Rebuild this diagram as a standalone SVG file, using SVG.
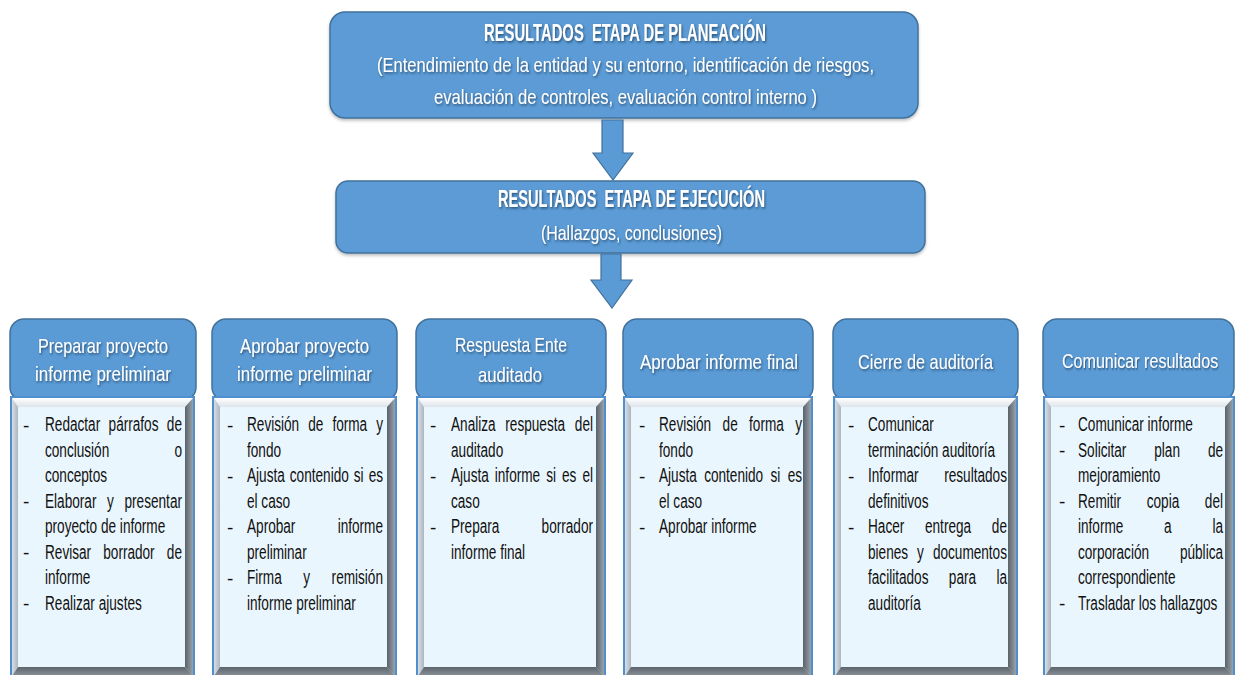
<svg xmlns="http://www.w3.org/2000/svg" width="1235" height="675" viewBox="0 0 1235 675">
<defs>
<filter id="ts" x="-5%" y="-30%" width="110%" height="160%"><feDropShadow dx="1" dy="1.5" stdDeviation="0.8" flood-color="#1f3a5a" flood-opacity="0.75"/></filter>
<filter id="bs" x="-5%" y="-10%" width="110%" height="125%"><feDropShadow dx="0" dy="2" stdDeviation="1.5" flood-color="#000" flood-opacity="0.25"/></filter>
<linearGradient id="gTop" x1="0" y1="0" x2="0" y2="1"><stop offset="0" stop-color="#ffffff"/><stop offset="1" stop-color="#dde4ea"/></linearGradient>
<linearGradient id="gLeft" x1="0" y1="0" x2="1" y2="0"><stop offset="0" stop-color="#d7dde3"/><stop offset="1" stop-color="#aeb6be"/></linearGradient>
<linearGradient id="gRight" x1="0" y1="0" x2="1" y2="0"><stop offset="0" stop-color="#59616a"/><stop offset="1" stop-color="#9aa2aa"/></linearGradient>
<linearGradient id="gBot" x1="0" y1="0" x2="0" y2="1"><stop offset="0" stop-color="#5d646c"/><stop offset="1" stop-color="#8a9199"/></linearGradient>
</defs>
<style>
.box{fill:#5B9BD5;stroke:#41719C;stroke-width:1.5}
.arrow{fill:#5B9BD5;stroke:#41719C;stroke-width:1.2}
.wt{fill:#ffffff;font-family:"Liberation Sans",Arial,sans-serif;filter:url(#ts)}
.b{font-weight:bold;font-size:23px}
.r{font-size:21px}
.hd{font-size:21px}
.face{fill:#EAF6FD}
.bt{fill:url(#gTop)}
.bl{fill:url(#gLeft)}
.br{fill:url(#gRight)}
.bb{fill:url(#gBot)}
.brd{fill:none;stroke:#4F8FD0;stroke-width:2}
.tx{fill:#111;font-family:"Liberation Sans",Arial,sans-serif;font-size:21px}
.dash{fill:#111;font-family:"Liberation Sans",Arial,sans-serif;font-size:19px}
</style>

<g id="planeacion">
<rect class="box" x="330" y="12" width="588" height="106" rx="15" filter="url(#bs)"/>
<text class="wt b" x="484" y="41" textLength="282" lengthAdjust="spacingAndGlyphs" xml:space="preserve">RESULTADOS  ETAPA DE PLANEACIÓN</text>
<text class="wt r" x="377" y="72" textLength="497" lengthAdjust="spacingAndGlyphs">(Entendimiento de la entidad y su entorno, identificación de riesgos,</text>
<text class="wt r" x="434" y="104" textLength="383" lengthAdjust="spacingAndGlyphs">evaluación de controles, evaluación control interno )</text>
</g>

<g id="ejecucion">
<rect class="box" x="336" y="181" width="589" height="72" rx="12" filter="url(#bs)"/>
<text class="wt b" x="498" y="207" textLength="267" lengthAdjust="spacingAndGlyphs" xml:space="preserve">RESULTADOS  ETAPA DE EJECUCIÓN</text>
<text class="wt r" x="541" y="240" textLength="181" lengthAdjust="spacingAndGlyphs">(Hallazgos, conclusiones)</text>
</g>

<g id="connectors">
<polygon class="arrow" points="602,120 623,120 623,153 633,153 613,180 593,153 602,153"/>
<polygon class="arrow" points="601,254 621,254 621,280 632,280 612,308 591,280 601,280"/>
</g>

<!-- Column 1 -->
<g id="col1">
<rect class="box" x="10" y="319" width="186" height="82" rx="14"/>
<text class="wt hd" x="38" y="353" textLength="130" lengthAdjust="spacingAndGlyphs">Preparar proyecto</text>
<text class="wt hd" x="35" y="381" textLength="136" lengthAdjust="spacingAndGlyphs">informe preliminar</text>
<rect class="face" x="10" y="397" width="185" height="280"/>
<polygon class="bt" points="12,398 193,398 185,407 18,407"/>
<polygon class="bl" points="12,398 18,407 18,667 12,676"/>
<polygon class="br" points="193,398 193,676 185,667 185,407"/>
<polygon class="bb" points="12,676 18,667 185,667 193,676"/>
<rect class="brd" x="11" y="397" width="183" height="282"/>
<text class="dash" x="23" y="431.5">-</text><text class="dash" x="23" y="508">-</text><text class="dash" x="23" y="559">-</text><text class="dash" x="23" y="610">-</text>
<g transform="translate(45,0) scale(0.648,1)">
<text class="tx" x="0" y="431.5" style="word-spacing:7.1px" textLength="211.4" lengthAdjust="spacing">Redactar párrafos de</text>
<text class="tx" x="0" y="457" style="word-spacing:94.7px" textLength="211.4" lengthAdjust="spacing">conclusión o</text>
<text class="tx" x="0" y="482.5">conceptos</text>
<text class="tx" x="0" y="508" style="word-spacing:10.6px" textLength="211.4" lengthAdjust="spacing">Elaborar y presentar</text>
<text class="tx" x="0" y="533.5">proyecto de informe</text>
<text class="tx" x="0" y="559" style="word-spacing:13px" textLength="211.4" lengthAdjust="spacing">Revisar borrador de</text>
<text class="tx" x="0" y="584.5">informe</text>
<text class="tx" x="0" y="610">Realizar ajustes</text>
</g>
</g>

<!-- Column 2 -->
<g id="col2">
<rect class="box" x="212" y="319" width="185" height="82" rx="14"/>
<text class="wt hd" x="240" y="353" textLength="129" lengthAdjust="spacingAndGlyphs">Aprobar proyecto</text>
<text class="wt hd" x="237" y="381" textLength="135" lengthAdjust="spacingAndGlyphs">informe preliminar</text>
<rect class="face" x="212" y="397" width="185" height="280"/>
<polygon class="bt" points="214,398 395,398 387,407 220,407"/>
<polygon class="bl" points="214,398 220,407 220,667 214,676"/>
<polygon class="br" points="395,398 395,676 387,667 387,407"/>
<polygon class="bb" points="214,676 220,667 387,667 395,676"/>
<rect class="brd" x="213" y="397" width="183" height="282"/>
<text class="dash" x="227" y="431.5">-</text><text class="dash" x="227" y="482.5">-</text><text class="dash" x="227" y="533.5">-</text><text class="dash" x="227" y="584.5">-</text>
<g transform="translate(247,0) scale(0.648,1)">
<text class="tx" x="0" y="431.5" style="word-spacing:8.1px" textLength="209.9" lengthAdjust="spacing">Revisión de forma y</text>
<text class="tx" x="0" y="457">fondo</text>
<text class="tx" x="0" y="482.5" style="word-spacing:1.9px" textLength="209.9" lengthAdjust="spacing">Ajusta contenido si es</text>
<text class="tx" x="0" y="508">el caso</text>
<text class="tx" x="0" y="533.5" style="word-spacing:59.5px" textLength="209.9" lengthAdjust="spacing">Aprobar informe</text>
<text class="tx" x="0" y="559">preliminar</text>
<text class="tx" x="0" y="584.5" style="word-spacing:27.4px" textLength="209.9" lengthAdjust="spacing">Firma y remisión</text>
<text class="tx" x="0" y="610">informe preliminar</text>
</g>
</g>

<!-- Column 3 -->
<g id="col3">
<rect class="box" x="416" y="319" width="190" height="82" rx="14"/>
<text class="wt hd" x="455" y="352" textLength="112" lengthAdjust="spacingAndGlyphs">Respuesta Ente</text>
<text class="wt hd" x="478" y="382" textLength="64" lengthAdjust="spacingAndGlyphs">auditado</text>
<rect class="face" x="416" y="397" width="190" height="280"/>
<polygon class="bt" points="418,398 604,398 596,407 424,407"/>
<polygon class="bl" points="418,398 424,407 424,667 418,676"/>
<polygon class="br" points="604,398 604,676 596,667 596,407"/>
<polygon class="bb" points="418,676 424,667 596,667 604,676"/>
<rect class="brd" x="417" y="397" width="188" height="282"/>
<text class="dash" x="430" y="431.5">-</text><text class="dash" x="430" y="482.5">-</text><text class="dash" x="430" y="533.5">-</text>
<g transform="translate(451,0) scale(0.648,1)">
<text class="tx" x="0" y="431.5" style="word-spacing:9.2px" textLength="219.1" lengthAdjust="spacing">Analiza respuesta del</text>
<text class="tx" x="0" y="457">auditado</text>
<text class="tx" x="0" y="482.5" style="word-spacing:3.5px" textLength="219.1" lengthAdjust="spacing">Ajusta informe si es el</text>
<text class="tx" x="0" y="508">caso</text>
<text class="tx" x="0" y="533.5" style="word-spacing:59.3px" textLength="219.1" lengthAdjust="spacing">Prepara borrador</text>
<text class="tx" x="0" y="559">informe final</text>
</g>
</g>

<!-- Column 4 -->
<g id="col4">
<rect class="box" x="623" y="319" width="190" height="82" rx="14"/>
<text class="wt hd" x="640" y="369" textLength="158" lengthAdjust="spacingAndGlyphs">Aprobar informe final</text>
<rect class="face" x="623" y="397" width="190" height="280"/>
<polygon class="bt" points="625,398 811,398 803,407 631,407"/>
<polygon class="bl" points="625,398 631,407 631,667 625,676"/>
<polygon class="br" points="811,398 811,676 803,667 803,407"/>
<polygon class="bb" points="625,676 631,667 803,667 811,676"/>
<rect class="brd" x="624" y="397" width="188" height="282"/>
<text class="dash" x="639" y="431.5">-</text><text class="dash" x="639" y="482.5">-</text><text class="dash" x="639" y="533.5">-</text>
<g transform="translate(659,0) scale(0.648,1)">
<text class="tx" x="0" y="431.5" style="word-spacing:11.7px" textLength="220.7" lengthAdjust="spacing">Revisión de forma y</text>
<text class="tx" x="0" y="457">fondo</text>
<text class="tx" x="0" y="482.5" style="word-spacing:5.5px" textLength="220.7" lengthAdjust="spacing">Ajusta contenido si es</text>
<text class="tx" x="0" y="508">el caso</text>
<text class="tx" x="0" y="533.5">Aprobar informe</text>
</g>
</g>

<!-- Column 5 -->
<g id="col5">
<rect class="box" x="833" y="319" width="185" height="82" rx="14"/>
<text class="wt hd" x="858" y="369" textLength="135" lengthAdjust="spacingAndGlyphs">Cierre de auditoría</text>
<rect class="face" x="833" y="397" width="185" height="280"/>
<polygon class="bt" points="835,398 1016,398 1008,407 841,407"/>
<polygon class="bl" points="835,398 841,407 841,667 835,676"/>
<polygon class="br" points="1016,398 1016,676 1008,667 1008,407"/>
<polygon class="bb" points="835,676 841,667 1008,667 1016,676"/>
<rect class="brd" x="834" y="397" width="183" height="282"/>
<text class="dash" x="848" y="431.5">-</text><text class="dash" x="848" y="482.5">-</text><text class="dash" x="848" y="533.5">-</text>
<g transform="translate(868,0) scale(0.648,1)">
<text class="tx" x="0" y="431.5">Comunicar</text>
<text class="tx" x="0" y="457">terminación auditoría</text>
<text class="tx" x="0" y="482.5" style="word-spacing:33.7px" textLength="214.5" lengthAdjust="spacing">Informar resultados</text>
<text class="tx" x="0" y="508">definitivos</text>
<text class="tx" x="0" y="533.5" style="word-spacing:26.2px" textLength="214.5" lengthAdjust="spacing">Hacer entrega de</text>
<text class="tx" x="0" y="559" style="word-spacing:8.1px" textLength="214.5" lengthAdjust="spacing">bienes y documentos</text>
<text class="tx" x="0" y="584.5" style="word-spacing:25.6px" textLength="214.5" lengthAdjust="spacing">facilitados para la</text>
<text class="tx" x="0" y="610">auditoría</text>
</g>
</g>

<!-- Column 6 -->
<g id="col6">
<rect class="box" x="1043" y="319" width="191" height="82" rx="14"/>
<g transform="translate(1062,368) scale(0.765,1)">
<text class="wt hd" x="0" y="0">Comunicar resultados</text>
</g>
<rect class="face" x="1043" y="397" width="191" height="280"/>
<polygon class="bt" points="1045,398 1233,398 1225,407 1051,407"/>
<polygon class="bl" points="1045,398 1051,407 1051,667 1045,676"/>
<polygon class="br" points="1233,398 1233,676 1225,667 1225,407"/>
<polygon class="bb" points="1045,676 1051,667 1225,667 1233,676"/>
<rect class="brd" x="1044" y="397" width="190" height="282"/>
<text class="dash" x="1059" y="431.5">-</text><text class="dash" x="1059" y="457">-</text><text class="dash" x="1059" y="508">-</text><text class="dash" x="1059" y="610">-</text>
<g transform="translate(1078,0) scale(0.648,1)">
<text class="tx" x="0" y="431.5">Comunicar informe</text>
<text class="tx" x="0" y="457" style="word-spacing:37.2px" textLength="223.8" lengthAdjust="spacing">Solicitar plan de</text>
<text class="tx" x="0" y="482.5">mejoramiento</text>
<text class="tx" x="0" y="508" style="word-spacing:33.7px" textLength="223.8" lengthAdjust="spacing">Remitir copia del</text>
<text class="tx" x="0" y="533.5" style="word-spacing:57.1px" textLength="223.8" lengthAdjust="spacing">informe a la</text>
<text class="tx" x="0" y="559" style="word-spacing:41.8px" textLength="223.8" lengthAdjust="spacing">corporación pública</text>
<text class="tx" x="0" y="584.5">correspondiente</text>
<text class="tx" x="0" y="610">Trasladar los hallazgos</text>
</g>
</g>
</svg>
